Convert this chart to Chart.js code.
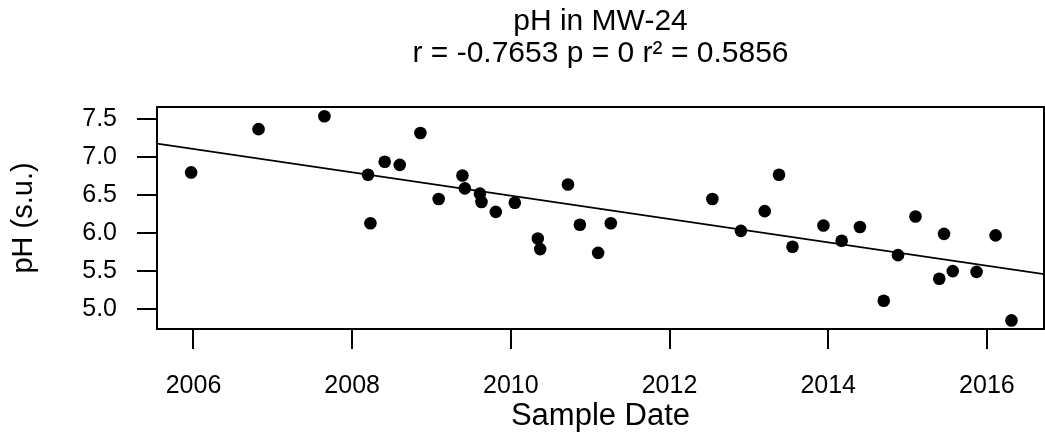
<!DOCTYPE html>
<html>
<head>
<meta charset="utf-8">
<script src="https://cdn.jsdelivr.net/npm/chart.js@4/dist/chart.umd.min.js"></script>
<style>
  html, body { margin:0; padding:0; background:#fff; }
  #wrap { width:1045px; height:436px; }
</style>
</head>
<body>
<div id="wrap"><canvas id="phChart" width="1045" height="436"></canvas></div>
<script>
// sample dates (decimal years) and pH readings
const sampleYears = [
  2005.97, 2006.82, 2007.65, 2008.20, 2008.23, 2008.41, 2008.60, 2008.86, 2009.09, 2009.39,
  2009.42, 2009.61, 2009.63, 2009.81, 2010.05, 2010.34, 2010.37, 2010.72, 2010.87, 2011.10,
  2011.26, 2012.54, 2012.90, 2013.20, 2013.38, 2013.55, 2013.94, 2014.17, 2014.40, 2014.70,
  2014.88, 2015.10, 2015.40, 2015.46, 2015.57, 2015.87, 2016.11, 2016.31
];
const phValues = [
  6.80, 7.37, 7.54, 6.77, 6.13, 6.94, 6.90, 7.32, 6.45, 6.76,
  6.59, 6.52, 6.41, 6.28, 6.40, 5.93, 5.79, 6.64, 6.11, 5.74,
  6.13, 6.45, 6.03, 6.29, 6.77, 5.82, 6.10, 5.90, 6.08, 5.11,
  5.71, 6.22, 5.40, 5.99, 5.50, 5.49, 5.97, 4.85
];
// regression line end points (at the plot edges)
const trendYears = [2005.54, 2016.72];
const trendPh = [7.18, 5.46];

const xTicks = [2006, 2008, 2010, 2012, 2014, 2016];
const yTicks = [5.0, 5.5, 6.0, 6.5, 7.0, 7.5];
const xRange = [2005.54, 2016.72];
const yRange = [4.737, 7.662];

const titleLines = ['pH in MW-24', 'r = -0.7653 p = 0 r\u00B2 = 0.5856'];
const FONT = "'Liberation Sans', Arial, Helvetica, sans-serif";

// R-style box round the plot region
const boxPlugin = {
  id: 'plotBox',
  afterDraw(chart) {
    const { ctx, chartArea: a } = chart;
    ctx.save();
    ctx.strokeStyle = '#000';
    ctx.lineWidth = 2;
    ctx.strokeRect(a.left, a.top, a.right - a.left, a.bottom - a.top);
    ctx.restore();
  }
};

new Chart(document.getElementById('phChart'), {
  type: 'scatter',
  data: {
    datasets: [
      {
        data: sampleYears.map((x, i) => ({ x: x, y: phValues[i] })),
        backgroundColor: '#000',
        borderWidth: 0,
        pointRadius: 6.3,
        pointHoverRadius: 6.3
      },
      {
        type: 'line',
        data: trendYears.map((x, i) => ({ x: x, y: trendPh[i] })),
        borderColor: '#000',
        borderWidth: 1.6,
        pointRadius: 0,
        fill: false
      }
    ]
  },
  plugins: [boxPlugin],
  options: {
    responsive: false,
    animation: false,
    layout: { autoPadding: false, padding: { left: 0, right: 1, top: 0, bottom: 0 } },
    plugins: {
      legend: { display: false },
      tooltip: { enabled: false },
      title: {
        display: true,
        fullSize: false,
        text: titleLines,
        color: '#000',
        font: { family: FONT, size: 30, weight: 'normal', lineHeight: 1.05 },
        padding: { top: 6, bottom: 38 }
      }
    },
    scales: {
      x: {
        type: 'linear',
        min: xRange[0],
        max: xRange[1],
        afterBuildTicks: axis => { axis.ticks = xTicks.map(v => ({ value: v })); },
        afterFit: axis => { axis.height = 107; },
        grid: { drawOnChartArea: false, drawTicks: true, tickLength: 20, color: '#000', lineWidth: 2 },
        border: { display: true, color: '#000', width: 2 },
        ticks: {
          color: '#000', padding: 22, maxRotation: 0, autoSkip: false,
          font: { family: FONT, size: 25 },
          callback: v => String(v)
        },
        title: {
          display: true, text: 'Sample Date', color: '#000',
          font: { family: FONT, size: 31 },
          padding: { top: 0, bottom: 1 }
        }
      },
      y: {
        type: 'linear',
        min: yRange[0],
        max: yRange[1],
        afterBuildTicks: axis => { axis.ticks = yTicks.map(v => ({ value: v })); },
        afterFit: axis => { axis.width = 157; },
        grid: { drawOnChartArea: false, drawTicks: true, tickLength: 20, color: '#000', lineWidth: 2 },
        border: { display: true, color: '#000', width: 2 },
        ticks: {
          color: '#000', padding: 20, autoSkip: false,
          font: { family: FONT, size: 25 },
          callback: v => Number(v).toFixed(1)
        },
        title: {
          display: true, text: 'pH (s.u.)', color: '#000',
          font: { family: FONT, size: 29 },
          padding: { top: 7, bottom: 0 }
        }
      }
    }
  }
});
</script>
</body>
</html>
